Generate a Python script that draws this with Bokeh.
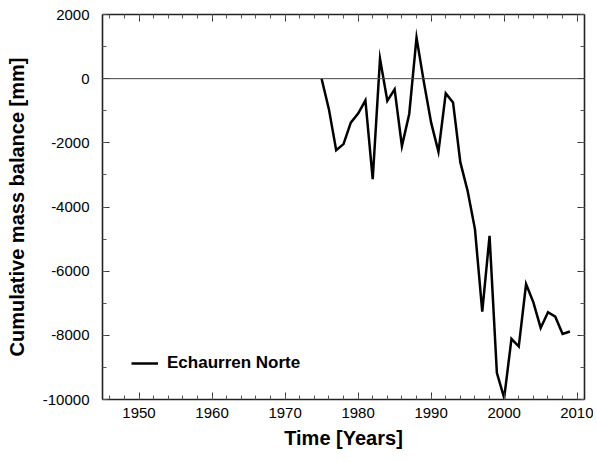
from bokeh.plotting import figure
from bokeh.models import (LinearAxis, Span, Legend, LegendItem, SingleIntervalTicker,
                          Range1d, PrintfTickFormatter, CustomLabelingPolicy)
from bokeh.embed import file_html
from bokeh.resources import INLINE

# ---- data ----
years = list(range(1975, 2010))
cum_balance = [0, -950, -2230, -2040, -1370, -1090, -680, -3130, 620, -690,
               -330, -2100, -1100, 1280, -100, -1370, -2280, -460, -740, -2610,
               -3500, -4690, -7260, -4900, -9170, -9950, -8110, -8350, -6400, -6970,
               -7770, -7280, -7420, -7960, -7880]
series_name = "Echaurren Norte"
x_label = "Time [Years]"
y_label = "Cumulative mass balance [mm]"

FONT = "Liberation Sans"

p = figure(frame_width=482, frame_height=385,
           x_range=Range1d(1945, 2011), y_range=Range1d(-10000, 2000),
           output_backend="svg", toolbar_location=None,
           min_border_left=102, min_border_right=9, min_border_top=14,
           min_border_bottom=50, x_axis_location=None, y_axis_location=None)
p.grid.visible = False
p.outline_line_color = None
p.background_fill_color = "white"
p.border_fill_color = "white"

xt = SingleIntervalTicker(interval=10, num_minor_ticks=5)
yt = SingleIntervalTicker(interval=2000, num_minor_ticks=2)

hide_all = CustomLabelingPolicy(code="""
const arr = Array.from(indices);
for (const i of arr) indices.unset(i);
return indices;
""")


def style(ax, labels=True):
    ax.axis_line_color = "#222222"
    ax.axis_line_width = 1.6
    ax.major_tick_in = 7
    ax.major_tick_out = 0
    ax.minor_tick_in = 4
    ax.minor_tick_out = 0
    ax.major_tick_line_color = "#333333"
    ax.minor_tick_line_color = "#555555"
    ax.major_tick_line_width = 1
    ax.minor_tick_line_width = 1
    ax.formatter = PrintfTickFormatter(format="%d")
    if labels:
        ax.major_label_text_font = FONT
        ax.major_label_text_font_size = "15px"
        ax.major_label_text_color = "black"
        ax.axis_label_text_font = FONT
        ax.axis_label_text_font_size = "20px"
        ax.axis_label_text_font_style = "bold"
        ax.axis_label_text_color = "black"
    else:
        ax.major_label_policy = hide_all
        ax.major_label_text_font_size = "1px"
        ax.major_label_standoff = 0


xb = LinearAxis(ticker=xt, axis_label=x_label)
style(xb)
xb.major_label_standoff = 8
xb.axis_label_standoff = 6
p.add_layout(xb, "below")

yl = LinearAxis(ticker=yt, axis_label=y_label)
style(yl)
yl.major_label_standoff = 13
yl.axis_label_standoff = 12
p.add_layout(yl, "left")

xa = LinearAxis(ticker=xt)
style(xa, labels=False)
p.add_layout(xa, "above")

yr = LinearAxis(ticker=yt)
style(yr, labels=False)
p.add_layout(yr, "right")

p.add_layout(Span(location=0, dimension="width", line_color="#444444", line_width=1))

r = p.line(years, cum_balance, line_color="black", line_width=2.5, line_join="miter")

legend = Legend(items=[LegendItem(label=series_name, renderers=[r])],
                location=(29, 26), margin=0, padding=0,
                border_line_color=None, background_fill_alpha=0,
                glyph_width=27, label_standoff=9,
                label_text_font=FONT, label_text_font_size="17px",
                label_text_font_style="bold", label_text_color="black")
p.add_layout(legend)

open("out.html", "w").write(file_html(p, INLINE))
